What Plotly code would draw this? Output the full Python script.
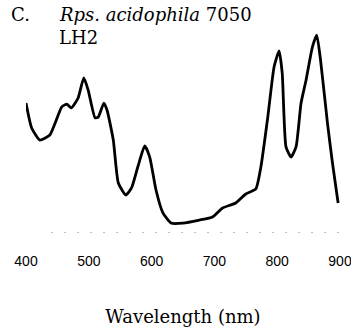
import plotly.graph_objects as go

wavelength = [400, 409, 422, 438, 457, 465, 472, 483, 492, 499, 510, 515, 524, 529,
              539, 547, 559, 568, 578, 589, 597, 607, 618, 631, 650, 676, 697, 713,
              734, 750, 766, 774, 785, 795, 803, 808, 814, 822, 830, 838, 846, 856,
              863, 869, 880, 888, 897]
absorbance = [0.640, 0.517, 0.458, 0.483, 0.621, 0.635, 0.616, 0.665, 0.764, 0.704,
              0.567, 0.571, 0.640, 0.606, 0.458, 0.246, 0.187, 0.222, 0.325, 0.429,
              0.374, 0.212, 0.099, 0.049, 0.049, 0.064, 0.079, 0.123, 0.148, 0.192,
              0.217, 0.325, 0.571, 0.818, 0.897, 0.788, 0.424, 0.374, 0.424, 0.640,
              0.754, 0.916, 0.975, 0.852, 0.542, 0.345, 0.148]
baseline_x = [440, 900]
baseline_y = [0, 0]
tick_vals = [400, 500, 600, 700, 800, 900]
tick_text = ["400", "500", "600", "700", "800", "900"]

fig = go.Figure()
fig.add_trace(go.Scatter(x=baseline_x, y=baseline_y, mode="lines",
                         line=dict(color="#777", width=1, dash="2px,11px"),
                         hoverinfo="skip", showlegend=False))
fig.add_trace(go.Scatter(x=wavelength, y=absorbance, mode="lines",
                         line=dict(color="black", width=2.8, shape="spline", smoothing=0.5),
                         showlegend=False))

serif = "DejaVu Serif"
fig.add_annotation(text="C.", xref="paper", yref="paper", x=-0.054, y=1.074,
                   xanchor="left", yanchor="middle", showarrow=False,
                   font=dict(family=serif, size=18, color="black"))
fig.add_annotation(text="<i>Rps. acidophila</i> 7050", xref="paper", yref="paper",
                   x=0.099, y=1.074, xanchor="left", yanchor="middle", showarrow=False,
                   font=dict(family=serif, size=18, color="black"))
fig.add_annotation(text="LH2", xref="paper", yref="paper",
                   x=0.099, y=0.961, xanchor="left", yanchor="middle", showarrow=False,
                   font=dict(family=serif, size=18, color="black"))

fig.update_layout(
    width=351, height=328,
    margin=dict(l=26, r=11, t=30, b=95),
    paper_bgcolor="white", plot_bgcolor="white",
    xaxis=dict(range=[400, 900], tickvals=tick_vals, ticktext=tick_text,
               showgrid=False, zeroline=False, showline=False, ticks="",
               automargin=False,
               ticklabelstandoff=18, ticklabeloverflow="allow",
               tickfont=dict(family="Liberation Sans", size=14, color="black"),
               title=dict(text="Wavelength (nm)", standoff=42,
                          font=dict(family=serif, size=18, color="black"))),
    yaxis=dict(range=[0, 1], visible=False),
)
fig.write_html("out.html")
